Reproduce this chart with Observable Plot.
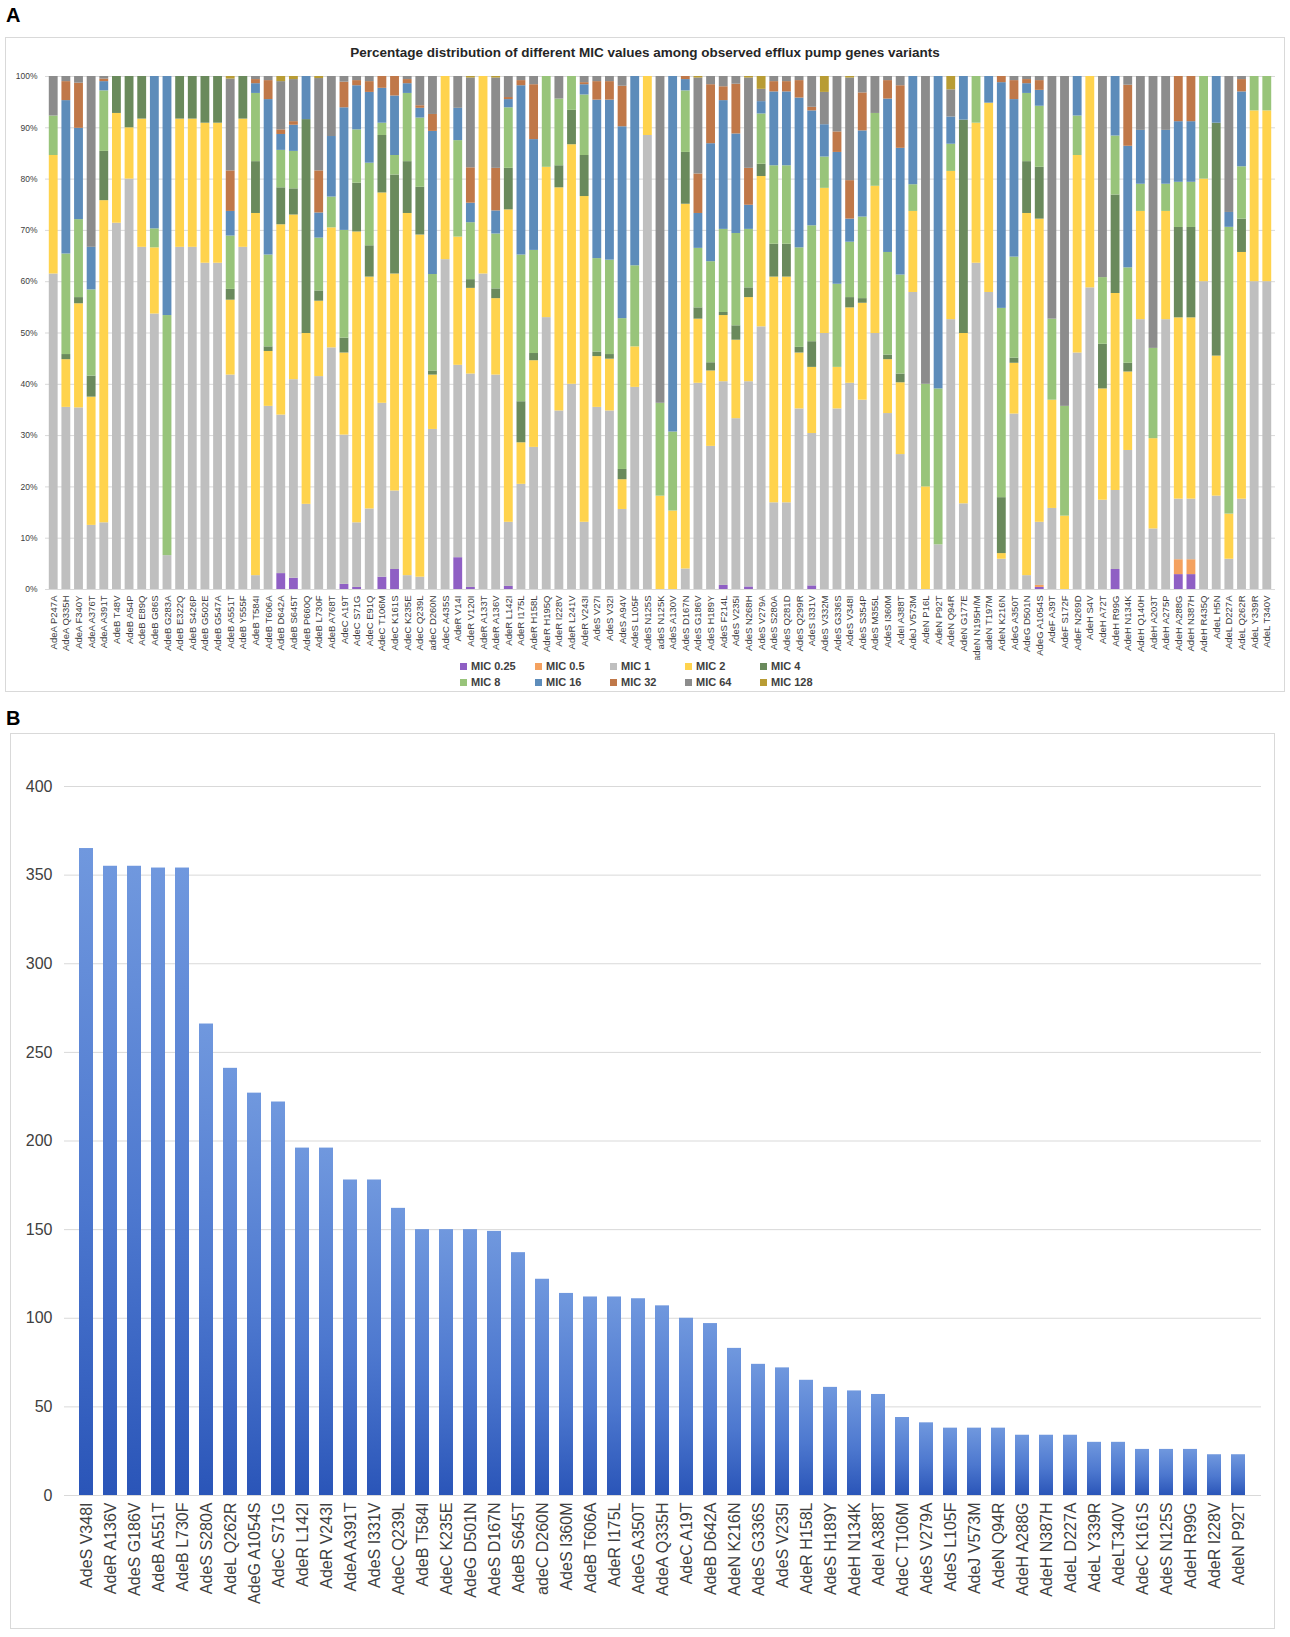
<!DOCTYPE html>
<html><head><meta charset="utf-8">
<script src="https://cdn.jsdelivr.net/npm/d3@7"></script>
<script src="https://cdn.jsdelivr.net/npm/@observablehq/plot@0.6"></script>
<style>
body{margin:0;background:#fff;font-family:"Liberation Sans",Arial,sans-serif;}
#root{position:relative;width:1290px;height:1637px;overflow:hidden;}
.panel{position:absolute;border:1px solid #d9d9d9;box-sizing:border-box;}
.lab{position:absolute;font-weight:bold;font-size:20px;color:#000;}
#titleA{position:absolute;left:5px;width:1280px;top:45px;text-align:center;font-weight:bold;font-size:13.5px;color:#262626;}
.plot{position:absolute;}
.leg{position:absolute;font-weight:bold;font-size:11px;color:#404040;white-space:nowrap;display:flex;align-items:center;}
.leg span.sw{display:inline-block;width:7px;height:7px;margin-right:4px;}
</style></head>
<body><div id="root">
<div class="lab" style="left:6px;top:4px;">A</div>
<div class="panel" style="left:5px;top:37px;width:1280px;height:655px;"></div>
<div id="titleA">Percentage distribution of different MIC values among observed efflux pump genes variants</div>
<div id="plotA" class="plot" style="left:5px;top:60px;"></div>
<div id="legendA"></div>
<div class="lab" style="left:6px;top:707px;">B</div>
<div class="panel" style="left:10px;top:733px;width:1265px;height:896px;"></div>
<div id="plotB" class="plot" style="left:10px;top:760px;"></div>
</div>
<script>
// ---------- Panel A data ----------
const variantsA = ["AdeA P247A","AdeA Q335H","AdeA F340Y","AdeA A376T","AdeA A391T","AdeB T48V","AdeB A54P","AdeB E89Q","AdeB G86S","AdeB G283A",
"AdeB E322Q","AdeB S426P","AdeB G502E","AdeB G547A","AdeB A551T","AdeB Y555F","AdeB T584I","AdeB T606A","AdeB D642A","AdeB S645T",
"AdeB P660Q","AdeB L730F","AdeB A768T","AdeC A19T","AdeC S71G","AdeC E91Q","AdeC T106M","AdeC K161S","AdeC K235E","AdeC Q239L",
"adeC D260N","AdeC A435S","AdeR V14I","AdeR V120I","AdeR A133T","AdeR A136V","AdeR L142I","AdeR I175L","AdeR H158L","AdeR H195Q",
"AdeR I228V","AdeR L241V","AdeR V243I","AdeS V27I","AdeS V32I","AdeS A94V","AdeS L105F","AdeS N125S","adeS N125K","AdeS A130V",
"AdeS D167N","AdeS G186V","AdeS H189Y","AdeS F214L","AdeS V235I","AdeS N268H","AdeS V279A","AdeS S280A","AdeS Q281D","AdeS Q299R",
"AdeS I331V","AdeS V332M","AdeS G336S","AdeS V348I","AdeS S354P","AdeS M355L","AdeS I360M","AdeI A388T","AdeJ V573M","AdeN P16L",
"AdeN P92T","AdeN Q94R","AdeN G177E","adeN N195H/M","adeN T197M","AdeN K216N","AdeG A350T","AdeG D501N","AdeG A1054S","AdeF A39T",
"AdeF S172F","AdeF N269D","AdeH S4V","AdeH A72T","AdeH R99G","AdeH N134K","AdeH Q140H","AdeH A203T","AdeH A275P","AdeH A288G",
"AdeH N387H","AdeH R435Q","AdeL H5N","AdeL D227A","AdeL Q262R","AdeL Y339R","AdeL T340V"];

const micLabels = ["MIC 0.25","MIC 0.5","MIC 1","MIC 2","MIC 4","MIC 8","MIC 16","MIC 32","MIC 64","MIC 128"];
const micColors = ["#8f5fc4","#f4a15f","#bfbfbf","#ffd34d","#6a8a5c","#98c47a","#5d8cba","#c07849","#8c8c8c","#b89c34"];

const mic025 = [0,0,0,0,0,0,0,0,0,0, 0,0,0,0,0,0,0,0,3.1,2.2, 0,0,0,1.0,0.4,0,2.4,3.9,0,0, 0,0,6.2,0.4,0,0,0.6,0,0,0,
 0,0,0,0,0,0,0,0,0,0, 0,0,0,0.8,0,0.5,0,0,0,0, 0.7,0,0,0,0,0,0,0,0,0, 0,0,0,0,0,0,0,0,0.4,0, 0,0,0,0,3.9,0,0,0,0,2.9, 2.9,0,0,0,0,0,0];
const mic05 = [0,0,0,0,0,0,0,0,0,0, 0,0,0,0,0,0,0,0,0,0, 0,0,0,0,0,0,0,0,0,0, 0,0,0,0,0,0,0,0,0,0,
 0,0,0,0,0,0,0,0,0,0, 0,0,0,0,0,0,0,0,0,0, 0,0,0,0,0,0,0,0,0,0, 0,0,0,0,0,0,0,0,0.4,0, 0,0,0,0,0,0,0,0,0,2.9, 2.9,0,0,0,0,0,0];
const mic1 = [61.5,35.5,35.4,12.5,13,71.4,80,66.7,53.7,6.6, 66.7,66.7,63.6,63.6,41.8,66.7,2.7,35.7,30.9,38.7,
 16.6,41.5,47.1,29.1,12.6,15.7,33.9,15.3,2.7,2.4, 31.2,64.3,37.5,41.6,61.5,41.8,12.5,20.5,27.7,53.0,
 34.8,40,13.1,35.5,34.8,15.6,39.4,88.5,0,0, 4.0,40.2,27.9,39.7,33.3,40.0,51.2,16.9,16.9,35.2,
 29.7,49.9,35.2,40.2,36.9,49.9,34.3,26.3,57.9,0, 8.7,52.6,16.7,63.6,57.9,5.9,34.2,2.7,12.3,15.8,
 0,46.1,58.8,17.4,15.4,27.1,52.6,11.8,52.6,11.8, 11.8,60,18.2,5.9,17.6,60,60];
const mic2 = [23.1,9.3,20.3,25,62.8,21.4,10,25,12.9,0, 25,25,27.3,27.3,14.6,25,70.6,10.7,37.1,32.1,
 33.3,14.7,23.4,16.0,56.7,45.2,41.0,42.3,70.6,66.7, 10.6,35.7,25.0,16.7,38.5,14.9,60.9,8.1,16.9,29.3,
 43.5,46.7,63.5,9.9,10.1,5.8,7.9,11.5,18.2,15.3, 71.1,12.5,14.7,12.9,15.3,16.4,29.3,44.0,44.0,10.9,
 12.9,28.3,8.1,14.7,18.9,28.7,10.5,14.0,15.8,20, 0,28.9,33.2,27.3,36.9,1.1,9.9,70.6,59.1,21.1,
 14.3,38.5,41.2,21.7,38.4,15.3,21.1,17.6,21.1,35.3, 35.3,20,27.3,8.8,48.1,33.3,33.3];
const mic4 = [0,1.0,1.2,4.1,9.6,7.2,10,8.3,0,0, 8.3,8.3,9.1,9.1,2.1,8.3,10.1,0.9,7.2,5.1,
 41.7,2.0,0,2.9,9.5,6.1,11.2,19.3,10.1,9.3, 0.8,0,0,1.7,0,1.9,8.1,8.0,1.4,0,
 4.3,6.7,8.0,0.9,0.9,2.0,0,0,0,0, 10.1,2.2,1.6,0.6,2.8,1.9,2.4,6.4,6.4,1.1,
 5.0,0,0,2.0,0.9,0,0.9,1.7,0,0, 0,0,41.6,0,0,10.9,1.0,10.1,10.1,0,
 0,0,0,8.7,19.2,1.7,0,0,0,17.6, 17.6,0,45.4,0,6.5,0,0];
const mic8 = [7.7,19.6,15.2,16.8,11.8,0,0,0,3.7,46.8, 0,0,0,0,10.4,0,13.3,17.9,7.3,7.3,
 0,10.3,6.0,21.0,10.4,16.1,2.4,3.8,13.3,13.5, 18.8,0,18.8,11.1,0,10.7,11.8,28.6,20.1,17.7,
 13.0,6.6,11.8,18.2,18.4,29.4,15.8,0,18.1,15.4, 12.0,11.6,19.7,16.2,18.0,11.4,9.8,15.3,15.3,19.4,
 22.6,6.1,16.2,10.8,15.9,14.2,20.0,19.3,5.2,20, 30.4,5.3,0,9.1,0,36.9,19.7,13.3,11.9,15.8,
 21.4,7.7,0,13.0,11.5,18.6,5.3,17.6,5.3,8.8, 8.8,20,0,55.9,10.2,6.7,6.7];
const mic16 = [0,29.9,17.8,8.3,1.8,0,0,0,29.7,46.6, 0,0,0,0,4.8,0,1.9,30.3,3.1,5.1,
 8.4,4.9,11.8,23.9,8.6,13.8,6.8,11.6,1.9,1.9, 27.9,0,6.3,3.8,0,4.5,1.6,33.0,21.6,0,
 0,0,2.0,30.9,31.2,37.4,36.9,0,0,69.3, 2.2,6.8,23.0,25.1,19.4,4.7,2.4,14.4,14.4,29.2,
 22.4,6.3,25.7,4.5,16.8,0,29.9,24.7,21.1,0, 60.9,5.3,8.5,0,5.2,44.0,30.7,1.9,3.1,0,
 0,7.7,0,0,11.6,23.7,10.5,0,10.5,11.8, 11.8,0,9.1,2.9,14.6,0,0];
const mic32 = [0,3.7,8.8,0,0.5,0,0,0,0,0, 0,0,0,0,7.9,0,0.8,3.7,0.9,0.7,
 0,8.2,0,5.0,1.0,2.1,2.3,3.8,0.8,0.5, 3.3,0,0,6.9,0,8.3,0.4,1.0,10.7,0,
 0,0,0.4,3.6,3.6,7.9,0,0,0,0, 0.6,7.7,11.5,2.7,9.7,7.2,0,2.0,2.0,3.4,
 0.7,0,4.0,7.5,7.4,0,3.6,12.2,0,0, 0,0,0,0,0,1.2,3.7,0.8,1.9,0,
 0,0,0,0,0,11.9,0,0,0,8.8, 8.8,0,0,0,2.4,0,0];
const mic64 = [7.7,1.0,1.3,33.3,0.5,0,0,0,0,0, 0,0,0,0,17.9,0,0.6,0.8,9.4,8.2,
 0,18.0,11.7,1.1,0.8,1.0,0,0,0.6,5.7, 7.4,0,6.2,17.5,0,17.6,4.1,0.8,1.6,0,
 4.4,0,1.2,1.0,1.0,1.9,0,0,63.7,0, 0,18.7,1.6,2.0,1.5,17.6,2.4,1.0,1.0,0.8,
 6.0,6.3,10.8,20.0,3.2,7.2,0.8,1.8,0,60, 0,5.3,0,0,0,0,0.8,0.6,0.8,47.3,
 64.3,0,0,39.2,0,1.7,10.5,53.0,10.5,0, 0,0,0,26.5,0.6,0,0];
const mic128 = [0,0,0,0,0,0,0,0,0,0, 0,0,0,0,0.5,0,0,0,1.0,0.6, 0,0.4,0,0,0,0,0,0,0,0, 0,0,0,0.3,0,0.3,0,0,0,0,
 0,0,0,0,0,0,0,0,0,0, 0,0.3,0,0,0,0.3,2.5,0,0,0, 0,3.1,0,0.3,0,0,0,0,0,0, 0,2.6,0,0,0,0,0,0,0,0,
 0,0,0,0,0,0,0,0,0,0, 0,0,0,0,0,0,0];

const yTicksA = [0,0.1,0.2,0.3,0.4,0.5,0.6,0.7,0.8,0.9,1.0];

// ---------- Panel B data ----------
const variantsB = ["AdeS V348I","AdeR A136V","AdeS G186V","AdeB A551T","AdeB L730F","AdeS S280A","AdeL Q262R","AdeG A1054S","AdeC S71G","AdeR L142I",
"AdeR V243I","AdeA A391T","AdeS I331V","AdeC Q239L","AdeB T584I","AdeC K235E","AdeG D501N","AdeS D167N","AdeB S645T","adeC D260N",
"AdeS I360M","AdeB T606A","AdeR I175L","AdeG A350T","AdeA Q335H","AdeC A19T","AdeB D642A","AdeN K216N","AdeS G336S","AdeS V235I",
"AdeR H158L","AdeS H189Y","AdeH N134K","AdeI A388T","AdeC T106M","AdeS V279A","AdeS L105F","AdeJ V573M","AdeN Q94R","AdeH A288G",
"AdeH N387H","AdeL D227A","AdeL Y339R","AdeLT340V","AdeC K161S","AdeS N125S","AdeH R99G","AdeR I228V","AdeN P92T"];
const countsB = [365,355,355,354,354,266,241,227,222,196,
 196,178,178,162,150,150,150,149,137,122,
 114,112,112,111,107,100,97,83,74,72,
 65,61,59,57,44,41,38,38,38,34,
 34,34,30,30,26,26,26,23,23];
const yTicksB = [0,50,100,150,200,250,300,350,400];

// ---------- Build panel A ----------
const micSeries = [mic025,mic05,mic1,mic2,mic4,mic8,mic16,mic32,mic64,mic128];
const rowsA = [];
variantsA.forEach((v,i)=>micLabels.forEach((m,j)=>rowsA.push({variant:v, mic:m, value:micSeries[j][i]})));

const plotA = Plot.plot({
  width:1280, height:600, marginLeft:40, marginRight:10, marginTop:16, marginBottom:71,
  style:{fontFamily:'"Liberation Sans",Arial,sans-serif', color:"#404040", background:"transparent"},
  x:{domain:variantsA, padding:0.3, label:null},
  y:{domain:[0,1], label:null},
  color:{domain:micLabels, range:micColors},
  marks:[
    Plot.gridY(yTicksA, {stroke:"#d9d9d9", strokeOpacity:1}),
    Plot.barY(rowsA, Plot.stackY({offset:"normalize", order:micLabels, x:"variant", y:"value", z:"mic", fill:"mic"})),
    Plot.axisY(yTicksA, {tickFormat:d3.format(".0%"), tickSize:0, tickPadding:8, fontSize:8.5, label:null}),
    Plot.axisX({tickRotate:-90, tickSize:0, tickPadding:6, fontSize:9.5, label:null})
  ]
});
document.getElementById("plotA").appendChild(plotA);

// legend A
const legendA = document.getElementById("legendA");
micLabels.forEach((m,i)=>{
  const row = i<5?0:1, col=i%5;
  const d = document.createElement("div");
  d.className="leg";
  d.style.left=(460+col*75)+"px";
  d.style.top=(660+row*16)+"px";
  d.innerHTML='<span class="sw" style="background:'+micColors[i]+'"></span>'+m;
  legendA.appendChild(d);
});

// ---------- Build panel B ----------
const rowsB = variantsB.map((v,i)=>({variant:v, n:countsB[i]}));
const plotB = Plot.plot({
  width:1265, height:865, marginLeft:54, marginRight:14, marginTop:26, marginBottom:130,
  style:{fontFamily:'"Liberation Sans",Arial,sans-serif', color:"#404040", background:"transparent"},
  x:{domain:variantsB, padding:0.4, label:null},
  y:{domain:[0,400], label:null},
  marks:[
    Plot.gridY(yTicksB, {stroke:"#d9d9d9", strokeOpacity:1}),
    Plot.barY(rowsB, {x:"variant", y:"n", fill:"#4472c4"}),
    Plot.axisY(yTicksB, {tickSize:0, tickPadding:12, fontSize:16, label:null}),
    Plot.axisX({tickRotate:-90, tickSize:0, tickPadding:7, fontSize:16, label:null})
  ]
});
// gradient fill
const ns="http://www.w3.org/2000/svg";
const defs=document.createElementNS(ns,"defs");
defs.innerHTML='<linearGradient id="bgrad" x1="0" y1="0" x2="0" y2="1"><stop offset="0" stop-color="#7098de"/><stop offset="0.55" stop-color="#4d78cf"/><stop offset="1" stop-color="#2a55b8"/></linearGradient>';
plotB.insertBefore(defs, plotB.firstChild);
const barG = plotB.querySelector('g[aria-label="bar"]');
if (barG) barG.setAttribute("fill","url(#bgrad)");
document.getElementById("plotB").appendChild(plotB);
</script>
</body></html>
